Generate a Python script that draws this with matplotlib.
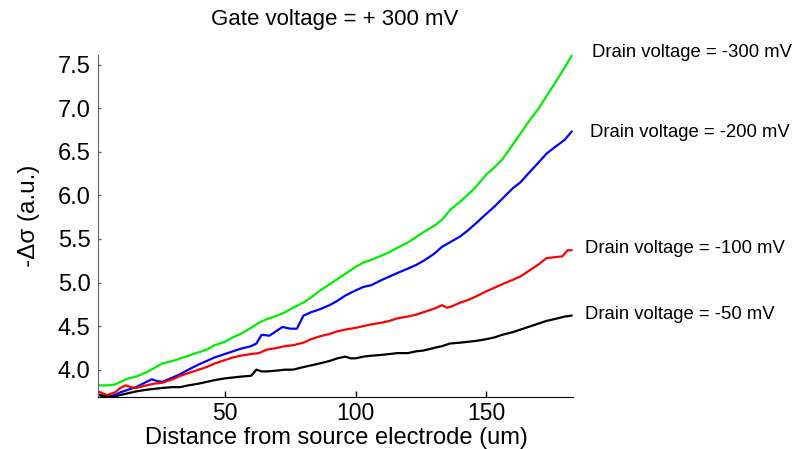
import matplotlib
matplotlib.use("Agg")
import matplotlib.pyplot as plt

# ---- data ----
x_green = [1, 3, 5, 8, 10, 13, 16, 20, 23, 26, 30, 33, 36, 40, 43, 46, 50, 53, 56, 60, 63, 66, 70, 73, 76, 80,
           83, 86, 90, 93, 96, 100, 103, 106, 110, 113, 116, 120, 123, 126, 130, 133, 136, 140, 143, 146, 150,
           153, 156, 160, 163, 166, 170, 173, 176, 180, 182.5]
y_green = [3.82, 3.82, 3.82, 3.83, 3.86, 3.90, 3.92, 3.97, 4.02, 4.07, 4.10, 4.13, 4.16, 4.20, 4.23, 4.28, 4.32,
           4.37, 4.41, 4.48, 4.54, 4.58, 4.62, 4.66, 4.71, 4.77, 4.83, 4.90, 4.98, 5.04, 5.10, 5.18, 5.23, 5.26,
           5.31, 5.35, 5.40, 5.46, 5.52, 5.58, 5.65, 5.72, 5.83, 5.93, 6.01, 6.10, 6.24, 6.32, 6.41, 6.58, 6.71,
           6.84, 7.00, 7.14, 7.28, 7.47, 7.60]

x_blue = [1, 3, 5, 8, 10, 13, 16, 20, 22, 24, 26, 30, 33, 36, 40, 43, 46, 50, 53, 56, 60, 62, 64, 67, 70, 72,
          75, 77.5, 80, 83, 86, 90, 93, 96, 100, 103, 106, 110, 113, 116, 120, 123, 126, 130, 133, 136, 140, 143,
          146, 150, 153, 156, 160, 163, 166, 170, 173, 176, 180, 182.5]
y_blue = [3.72, 3.70, 3.69, 3.71, 3.74, 3.77, 3.80, 3.86, 3.89, 3.87, 3.86, 3.91, 3.95, 4.00, 4.06, 4.10, 4.14,
          4.18, 4.21, 4.24, 4.27, 4.30, 4.40, 4.39, 4.45, 4.49, 4.47, 4.47, 4.62, 4.66, 4.69, 4.74, 4.79, 4.85,
          4.91, 4.95, 4.97, 5.03, 5.07, 5.11, 5.16, 5.20, 5.25, 5.33, 5.41, 5.46, 5.53, 5.60, 5.68, 5.79, 5.87,
          5.96, 6.08, 6.15, 6.25, 6.38, 6.48, 6.55, 6.64, 6.73]

x_red = [1, 3, 5, 8, 10, 12, 14, 16, 20, 23, 26, 30, 33, 36, 40, 43, 46, 50, 53, 56, 60, 63, 66, 70, 73, 76, 80,
         83, 86, 90, 93, 96, 100, 103, 106, 110, 113, 116, 120, 123, 126, 130, 133, 135, 137, 140, 143, 146, 150,
         153, 156, 160, 163, 166, 170, 173, 176, 179, 181, 182.5]
y_red = [3.76, 3.73, 3.71, 3.74, 3.79, 3.82, 3.80, 3.79, 3.82, 3.84, 3.85, 3.89, 3.93, 3.96, 4.00, 4.03, 4.07,
         4.11, 4.14, 4.16, 4.18, 4.19, 4.23, 4.25, 4.27, 4.28, 4.31, 4.35, 4.38, 4.41, 4.44, 4.46, 4.48, 4.50,
         4.52, 4.54, 4.56, 4.59, 4.61, 4.63, 4.66, 4.70, 4.74, 4.71, 4.73, 4.77, 4.80, 4.84, 4.90, 4.94, 4.98,
         5.03, 5.07, 5.13, 5.21, 5.28, 5.29, 5.30, 5.37, 5.37]

x_black = [1, 3, 5, 8, 10, 13, 16, 20, 23, 26, 30, 33, 36, 40, 43, 46, 50, 53, 56, 60, 62, 64, 66, 70, 73, 76,
           80, 83, 86, 90, 93, 96, 98, 100, 103, 106, 110, 113, 116, 120, 123, 126, 130, 133, 136, 140, 143, 146,
           150, 153, 156, 160, 163, 166, 170, 173, 176, 180, 182.5]
y_black = [3.72, 3.70, 3.69, 3.69, 3.71, 3.73, 3.75, 3.77, 3.78, 3.79, 3.80, 3.80, 3.82, 3.84, 3.86, 3.88, 3.90,
           3.91, 3.92, 3.93, 4.00, 3.98, 3.98, 3.99, 4.00, 4.00, 4.03, 4.05, 4.07, 4.10, 4.13, 4.15, 4.13, 4.13,
           4.15, 4.16, 4.17, 4.18, 4.19, 4.19, 4.21, 4.22, 4.25, 4.27, 4.30, 4.31, 4.32, 4.33, 4.35, 4.37, 4.40,
           4.43, 4.46, 4.49, 4.53, 4.56, 4.58, 4.61, 4.62]

series_labels = ["Drain voltage = -300 mV", "Drain voltage = -200 mV",
                 "Drain voltage = -100 mV", "Drain voltage = -50 mV"]
label_pos = [(190.3, 7.64), (189.5, 6.72), (187.6, 5.39), (187.6, 4.63)]

x_ticks = [50, 100, 150]
y_ticks = [4.0, 4.5, 5.0, 5.5, 6.0, 6.5, 7.0, 7.5]

title = "Gate voltage = + 300 mV"
xlabel = "Distance from source electrode (um)"
ylabel = "-\u0394\u03c3 (a.u.)"

# ---- plotting ----
plt.rcParams['font.family'] = ['Liberation Sans', 'DejaVu Sans']

fig = plt.figure(figsize=(8.0, 4.49), dpi=100)
ax = fig.add_axes([0.122, 0.1165, 0.594, 0.761])

lw = 1.6
ax.plot(x_green, y_green, color="#00ee00", lw=lw)
ax.plot(x_blue, y_blue, color="#0000ff", lw=lw)
ax.plot(x_red, y_red, color="#ff0000", lw=lw)
ax.plot(x_black, y_black, color="#000000", lw=lw)

ax.set_xlim(1.3, 183)
ax.set_ylim(3.69, 7.61)

ax.set_xticks(x_ticks)
ax.set_xticklabels([str(t) for t in x_ticks])
ax.set_yticks(y_ticks)
ax.set_yticklabels([f"{t:.1f}" for t in y_ticks])

ax.spines['top'].set_visible(False)
ax.spines['right'].set_visible(False)
ax.spines['left'].set_color("#666666")
ax.spines['bottom'].set_color("#000000")
ax.tick_params(axis='x', direction='in', length=4, width=1, pad=4, labelsize=16.5)
ax.tick_params(axis='y', direction='in', length=2.5, width=1, pad=5, labelsize=17, color="#666666")

for lab, (px, py) in zip(series_labels, label_pos):
    ax.text(px, py, lab, ha='left', va='center', fontsize=13.3, clip_on=False)

fig.text(335 / 800, 1 - 20 / 449, title, ha='center', va='center', fontsize=16)
fig.text(336 / 800, 1 - 438 / 449, xlabel, ha='center', va='center', fontsize=17)
fig.text(29 / 800, 1 - 216 / 449, ylabel, ha='center', va='center', rotation=90, fontsize=17.5)

fig.savefig("out.png", dpi=100)
